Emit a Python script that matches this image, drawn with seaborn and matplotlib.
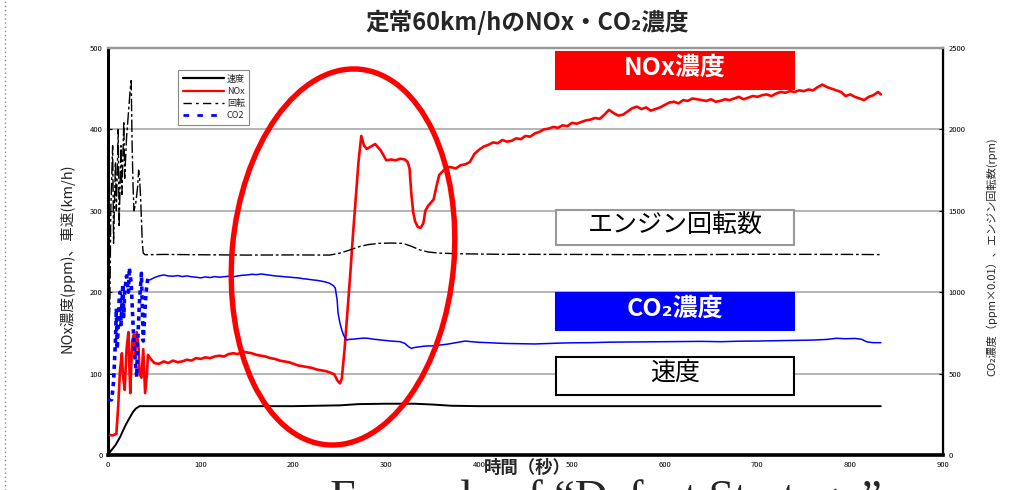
import matplotlib
matplotlib.use("Agg")
import matplotlib.pyplot as plt
import seaborn as sns
from matplotlib.lines import Line2D
from matplotlib.patches import Ellipse, Rectangle

# ---- data ----
nox_t = [0, 5, 9, 11, 13, 15, 16, 18, 20, 22, 23, 24, 26, 28, 29, 31, 33, 34, 36, 38, 40, 42, 43, 46,
         50, 55, 60, 65, 70, 75, 80, 85, 90, 95, 100, 105, 110, 115, 120, 125, 130, 135, 140, 145,
         150, 155, 160, 165, 170, 175, 180, 185, 190, 195, 200, 205, 210, 215, 220, 225, 230, 235,
         240, 244, 247, 250, 252, 255, 258, 261, 264, 267, 270, 273, 276, 279, 282, 285, 288, 291,
         294, 297, 300, 305, 310, 315, 320, 323, 325, 327, 329, 331, 334, 337, 340, 342, 345, 348,
         351, 354, 357, 362, 368, 375, 380, 385, 390, 395, 400, 405, 410, 415, 420, 425, 430, 435,
         440, 445, 450, 455, 460, 465, 470, 475, 480, 485, 490, 495, 500, 505, 510, 515, 520, 525,
         530, 535, 540, 545, 550, 555, 560, 565, 570, 575, 580, 585, 590, 595, 600, 605, 610, 615,
         620, 625, 630, 635, 640, 645, 650, 655, 660, 665, 670, 675, 680, 685, 690, 695, 700, 705,
         710, 715, 720, 725, 730, 735, 740, 745, 750, 755, 760, 765, 770, 775, 780, 785, 790, 795,
         800, 805, 810, 815, 820, 825, 830, 833]
nox_ppm = [25, 24, 26, 60, 105, 125, 100, 80, 130, 151, 110, 76, 140, 148, 120, 151, 130, 100, 95, 130,
           76, 100, 123, 118, 113, 112, 115, 113, 116, 114, 115, 117, 116, 119, 118, 120, 119, 121,
           122, 121, 124, 125, 124, 127, 126, 125, 123, 122, 121, 119, 118, 116, 115, 114, 112, 110,
           109, 108, 107, 105, 104, 103, 101, 99, 92, 88, 94, 130, 175, 220, 270, 315, 360, 392, 380,
           376, 378, 380, 382, 378, 374, 368, 362, 363, 362, 364, 363, 360, 352, 320, 298, 287, 280,
           279, 285, 300, 306, 310, 314, 330, 344, 350, 354, 352, 356, 357, 360, 370, 375, 379, 381,
           384, 383, 387, 385, 386, 389, 388, 392, 391, 395, 397, 400, 401, 403, 402, 405, 404, 408,
           407, 409, 411, 412, 414, 413, 418, 424, 420, 417, 418, 422, 426, 428, 425, 427, 423, 425,
           427, 430, 433, 434, 432, 436, 435, 438, 437, 436, 435, 437, 434, 435, 437, 436, 438, 440,
           437, 439, 441, 440, 442, 443, 441, 444, 446, 445, 447, 446, 448, 447, 449, 448, 452, 455,
           452, 450, 448, 446, 441, 443, 440, 438, 436, 440, 442, 446, 443]

co2_t = [0, 4, 6, 8, 9, 10, 12, 13, 14, 16, 17, 18, 20, 22, 23, 25, 27, 29, 31, 32, 34, 36, 37, 38,
         39, 41, 43, 45, 50, 55, 60, 65, 70, 75, 80, 85, 90, 95, 100, 105, 110, 115, 120, 125, 130,
         135, 140, 145, 150, 155, 160, 165, 170, 175, 180, 185, 190, 195, 200, 205, 210, 215, 220,
         225, 230, 235, 239, 243, 245, 247, 248, 250, 252, 254, 257, 260, 265, 270, 275, 280, 285,
         290, 295, 300, 305, 310, 315, 320, 324, 327, 330, 335, 340, 345, 351, 357, 365, 375, 385,
         390, 400, 410, 420, 430, 440, 450, 460, 470, 480, 490, 500, 520, 540, 560, 580, 600, 620,
         640, 660, 680, 700, 720, 740, 760, 775, 785, 795, 805, 812, 818, 825, 833]
co2_val = [335, 340, 450, 700, 900, 650, 950, 1000, 800, 1050, 850, 1000, 1100, 1000, 1150, 1055, 800,
           600, 480, 700, 950, 1116, 900, 700, 800, 1000, 1090, 1075, 1090, 1100, 1106, 1100, 1098,
           1102, 1096, 1100, 1095, 1092, 1088, 1094, 1090, 1096, 1092, 1095, 1098, 1095, 1100, 1104,
           1106, 1110, 1108, 1112, 1108, 1104, 1100, 1098, 1095, 1093, 1090, 1088, 1083, 1080, 1076,
           1073, 1068, 1062, 1054, 1040, 1025, 950, 870, 810, 768, 735, 706, 710, 712, 715, 718, 717,
           712, 709, 706, 703, 700, 698, 696, 685, 665, 655, 660, 664, 668, 670, 670, 675, 680, 690,
           700, 697, 692, 690, 687, 685, 684, 683, 682, 684, 686, 688, 689, 690, 693, 694, 695, 696,
           697, 698, 696, 699, 700, 702, 704, 706, 710, 717, 714, 716, 711, 695, 690, 690]

rpm_t = [0, 2, 3, 5, 6, 8, 9, 11, 12, 14, 15, 17, 18, 20, 22, 24, 25, 26, 27, 28, 30, 32, 33, 34, 35,
         36, 37, 38, 40, 60, 100, 150, 200, 239, 250, 260, 271, 280, 292, 305, 318, 327, 336, 345,
         357, 380, 420, 500, 600, 700, 800, 833]
rpm_val = [700, 900, 1500, 1900, 1300, 1800, 1500, 2000, 1400, 1900, 1600, 2050, 1700, 1950, 2100, 2250,
           2300, 1900, 1650, 1500, 1550, 1650, 1750, 1700, 1600, 1450, 1300, 1240, 1230, 1232, 1230,
           1228, 1229, 1228, 1240, 1258, 1280, 1292, 1300, 1302, 1300, 1282, 1260, 1247, 1240, 1236,
           1233, 1232, 1230, 1233, 1232, 1231]

speed_t = [0, 3, 8, 13, 17, 20, 24, 27, 30, 34, 50, 100, 200, 250, 270, 300, 330, 350, 370, 400, 500,
           600, 700, 833]
speed_kmh = [0, 5, 12, 22, 32, 39, 47, 53, 57, 60, 60, 60, 60, 61, 62.5, 63, 63, 62, 60.5, 60, 60, 60,
             60, 60]

W, H = 1030, 490

sns.set_style("white")
plt.rcParams["font.family"] = ["Noto Sans CJK JP", "DejaVu Sans"]

fig = plt.figure(figsize=(W / 100, H / 100), dpi=100)
ax = fig.add_axes([108 / W, 1 - 455 / H, (943 - 108) / W, (455 - 48) / H])
ax2 = ax.twinx()

# left axis: NOx & speed
sns.lineplot(x=speed_t, y=speed_kmh, ax=ax, color="black", linewidth=1.4, zorder=3)
sns.lineplot(x=nox_t, y=nox_ppm, ax=ax, color="#ff0000", linewidth=1.9, zorder=5)

# right axis: CO2 (x0.01) & rpm
early = sum(1 for t in co2_t if t <= 45)
sns.lineplot(x=co2_t[:early], y=co2_val[:early], ax=ax2, color="#0000ff", linewidth=2.6,
             linestyle=(0, (1.2, 1.2)), zorder=3)
sns.lineplot(x=co2_t[early - 1:], y=co2_val[early - 1:], ax=ax2, color="#0000ff", linewidth=1.1,
             zorder=3)
sns.lineplot(x=rpm_t, y=rpm_val, ax=ax2, color="black", linewidth=1.0,
             linestyle=(0, (9, 2, 2, 2)), zorder=2)

ax.set_xlim(0, 900)
ax.set_ylim(0, 500)
ax2.set_ylim(0, 2500)
ax.set_xticks(range(0, 901, 100))
ax.set_yticks(range(0, 501, 100))
ax2.set_yticks(range(0, 2501, 500))
for a in (ax, ax2):
    a.tick_params(labelsize=5.5, length=3, direction="in", pad=4, colors="black")
    a.set_xlabel("")
    a.set_ylabel("")
ax.grid(False)
ax2.grid(False)
ax.yaxis.grid(True, color="#b4b4b4", linewidth=1.4)

ax.spines["left"].set_linewidth(2.2)
ax.spines["bottom"].set_linewidth(2.6)
ax2.spines["right"].set_linewidth(1.6)
for a in (ax, ax2):
    a.spines["top"].set_color("#999999")
    a.spines["top"].set_linewidth(1.6)
    a.spines["left"].set_color("black")
    a.spines["bottom"].set_color("black")
    a.spines["right"].set_color("black")

# red ellipse highlight (figure inches)
ell = Ellipse((343 / 100, (H - 257) / 100), 2.22, 3.77, angle=-5, fill=False,
              edgecolor="#ff0000", linewidth=3.9, transform=fig.dpi_scale_trans,
              clip_on=False, zorder=10)
ax2.add_patch(ell)

# legend
handles = [
    Line2D([], [], color="black", linewidth=1.6),
    Line2D([], [], color="#ff0000", linewidth=1.6),
    Line2D([], [], color="black", linewidth=1.0, linestyle=(0, (6, 3, 2, 3))),
    Line2D([], [], color="#0000ff", linewidth=2.0, linestyle=(0, (2, 3))),
]
leg = ax2.legend(handles, ["速度", "NOx", "回転", "CO2"], loc="upper left",
                 bbox_to_anchor=(178 / W, 1 - 70 / H), bbox_transform=fig.transFigure,
                 fontsize=6.5, frameon=True, fancybox=False, framealpha=1,
                 handlelength=4.6, borderpad=0.5, labelspacing=0.35, handletextpad=0.3,
                 borderaxespad=0)
leg.get_frame().set_edgecolor("#888888")
leg.get_frame().set_linewidth(0.8)

# labelled boxes
boxes = [
    ("NOx濃度", 52, 89, "#ff0000", "#ff0000", "white", "bold"),
    ("エンジン回転数", 210, 245, "white", "#999999", "black", "normal"),
    ("CO₂濃度", 293, 330, "#0000ff", "#0000ff", "white", "bold"),
    ("速度", 357, 395, "white", "black", "black", "normal"),
]
for text, top, bottom, face, edge, tcol, weight in boxes:
    fig.add_artist(Rectangle((556 / W, 1 - bottom / H), (794 - 556) / W, (bottom - top) / H,
                             transform=fig.transFigure, facecolor=face, edgecolor=edge,
                             linewidth=1.5, zorder=5))
    fig.text((556 + 794) / 2 / W, 1 - ((top + bottom) / 2 - 3) / H, text, ha="center",
             va="center", fontsize=18, color=tcol, fontweight=weight, zorder=6)

# titles & axis labels
fig.text(527 / W, 1 - 22 / H, "定常60km/hのNOx・CO₂濃度", ha="center", va="center",
         fontsize=17, fontweight="bold")
fig.text(527 / W, 1 - 468 / H, "時間（秒）", ha="center", va="center", fontsize=12.5,
         fontweight="bold")
fig.text(67 / W, 1 - 258 / H, "NOx濃度(ppm)、車速(km/h)", ha="center", va="center",
         rotation=90, fontsize=10.5)
fig.text(992 / W, 1 - 257 / H, "CO₂濃度（ppm×0.01）、エンジン回転数(rpm)", ha="center",
         va="center", rotation=90, fontsize=8)

# slide remnants around the chart
fig.add_artist(Line2D([5 / W, 5 / W], [0, 1], transform=fig.transFigure, color="#888888",
                      linewidth=1.0, linestyle=(0, (1, 2))))
fig.text(330 / W, -0.045, "Example of “Defeat Strategy”", family=["Liberation Serif", "DejaVu Serif"],
         fontsize=33, ha="left", va="baseline")

fig.savefig("out.png", dpi=100)
